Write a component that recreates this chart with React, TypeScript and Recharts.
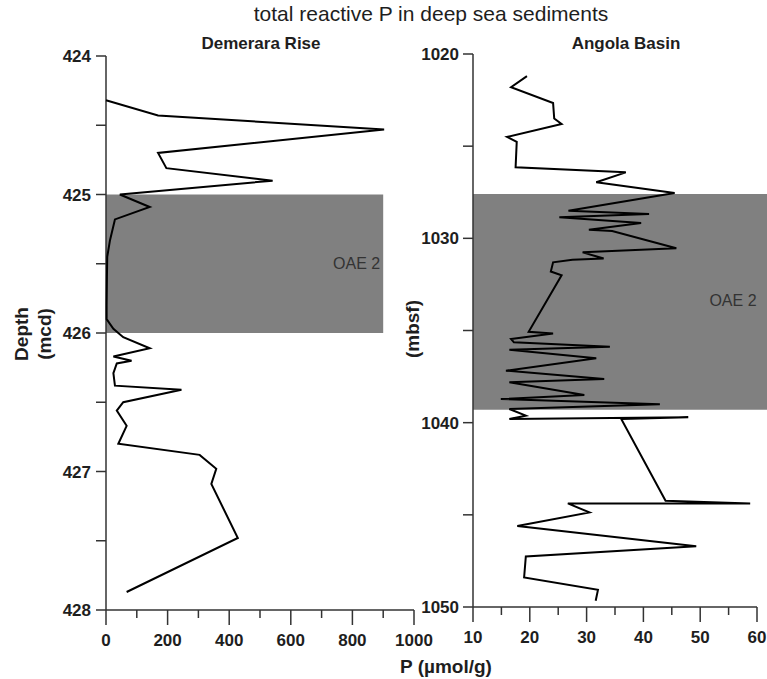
import React from 'react';
import {
  ScatterChart,
  Scatter,
  XAxis,
  YAxis,
  ReferenceArea,
} from 'recharts';

// Demerara Rise profile (depth in mcd, P in µmol/g)
const demeraraDepth = [
  424.32, 424.43, 424.53, 424.7, 424.81, 424.9, 425.0, 425.09, 425.18, 425.33,
  425.45, 425.6, 425.8, 425.9, 425.97, 426.03, 426.11, 426.17, 426.2, 426.22,
  426.29, 426.38, 426.41, 426.5, 426.56, 426.67, 426.8, 426.88, 426.98, 427.09,
  427.48, 427.87,
];
const demeraraP = [
  0, 169, 903, 169, 196, 541, 45, 142, 29, 13,
  4, 3, 2, 2, 24, 56, 142, 24, 83, 35,
  24, 29, 245, 56, 35, 67, 40, 304, 358, 342,
  428, 67,
];

// Angola Basin profile (depth in mbsf, P in µmol/g)
const angolaDepth = [
  1021.2, 1021.8, 1022.66, 1023.5, 1023.8, 1024.5, 1024.76, 1026.15, 1026.42, 1026.96,
  1027.54, 1028.5, 1028.68, 1028.86, 1029.17, 1029.53, 1029.6, 1030.54, 1030.76, 1031.09,
  1031.16, 1031.3, 1031.8, 1032.0, 1035.07, 1035.16, 1035.46, 1035.64, 1035.88, 1036.04,
  1036.5, 1037.18, 1037.63, 1037.81, 1038.5, 1038.72, 1039.0, 1039.26, 1039.62, 1039.8,
  1039.71, 1039.8, 1044.24, 1044.38, 1044.38, 1044.87, 1045.6, 1046.7, 1047.26, 1048.4,
  1049.07, 1049.66,
];
const angolaP = [
  19.5, 16.7, 24.1, 24.3, 25.6, 16.0, 17.7, 17.5, 36.9, 31.7,
  45.5, 26.8, 41.0, 25.2, 39.6, 30.4, 34.5, 45.8, 29.3, 33.0,
  27.5, 24.1, 23.7, 25.6, 19.8, 24.1, 16.7, 17.2, 34.1, 16.4,
  31.7, 15.8, 33.1, 16.4, 29.6, 14.9, 42.9, 16.4, 19.3, 16.4,
  47.9, 36.1, 43.9, 58.8, 26.7, 30.5, 17.8, 49.3, 19.3, 19.0,
  32.0, 31.6,
];

const demeraraYTicks = [424, 424.5, 425, 425.5, 426, 426.5, 427, 427.5, 428];
const demeraraXTicks = [0, 100, 200, 300, 400, 500, 600, 700, 800, 900, 1000];
const angolaYTicks = [1020, 1025, 1030, 1035, 1040, 1045, 1050];
const angolaXTicks = [10, 15, 20, 25, 30, 35, 40, 45, 50, 55, 60];

// OAE 2 intervals
const demeraraOae = [425, 426];
const angolaOae = [1027.6, 1039.3];

const FONT = '"Liberation Sans", Arial, sans-serif';
const AXIS = '#333';
const TEXT = '#1e1e1e';

const demeraraData = demeraraDepth.map((d, i) => ({ d, p: demeraraP[i] }));
const angolaData = angolaDepth.map((d, i) => ({ d, p: angolaP[i] }));

const makeXTick = (isMajor: (v: number) => boolean) => (props: any) => {
  const { x, y, payload } = props;
  const major = isMajor(payload.value);
  return (
    <g>
      <line x1={x} x2={x} y1={y} y2={y + (major ? 15 : 8)} stroke={AXIS} strokeWidth={1.5} />
      {major && (
        <text
          x={x}
          y={y + 36}
          textAnchor="middle"
          fill={TEXT}
          fontSize={17}
          fontWeight="bold"
          fontFamily={FONT}
        >
          {payload.value}
        </text>
      )}
    </g>
  );
};

const yTickStyle = { fill: TEXT, fontSize: 17, fontWeight: 'bold', fontFamily: FONT };
const noDot = () => <g />;

export default function App() {
  return (
    <div
      style={{
        position: 'absolute',
        left: 0,
        top: 0,
        width: 767,
        height: 679,
        background: '#fff',
        fontFamily: FONT,
      }}
    >
      <div style={{ position: 'absolute', left: 0, top: 0 }}>
        <ScatterChart width={450} height={679} margin={{ top: 56, right: 36, bottom: 39, left: 46 }}>
          <ReferenceArea
            x1={0}
            x2={900}
            y1={demeraraOae[0]}
            y2={demeraraOae[1]}
            fill="#808080"
            fillOpacity={1}
            stroke="none"
            label={{ value: 'OAE 2', position: 'insideRight', fill: '#333', fontSize: 16, fontFamily: FONT, offset: 3 }}
          />
          <XAxis
            type="number"
            dataKey="p"
            domain={[0, 1000]}
            ticks={demeraraXTicks}
            interval={0}
            height={30}
            tickSize={0}
            tickMargin={0}
            tickLine={false}
            axisLine={{ stroke: AXIS, strokeWidth: 1.5 }}
            tick={makeXTick((v) => v % 200 === 0)}
          />
          <YAxis
            type="number"
            dataKey="d"
            domain={[424, 428]}
            reversed
            ticks={demeraraYTicks}
            interval={0}
            width={60}
            tickSize={10}
            tickMargin={5}
            tickLine={{ stroke: AXIS, strokeWidth: 1.5 }}
            axisLine={{ stroke: AXIS, strokeWidth: 1.5 }}
            tick={yTickStyle}
            tickFormatter={(v: number) => (Number.isInteger(v) ? String(v) : '')}
          />
          <Scatter
            data={demeraraData}
            line={{ stroke: '#000', strokeWidth: 2 }}
            lineType="joint"
            shape={noDot}
            isAnimationActive={false}
          />
        </ScatterChart>
      </div>

      <div style={{ position: 'absolute', left: 400, top: 0 }}>
        <ScatterChart width={367} height={679} margin={{ top: 54, right: 10, bottom: 42, left: 13 }}>
          <ReferenceArea
            x1={10}
            x2={61.8}
            y1={angolaOae[0]}
            y2={angolaOae[1]}
            fill="#808080"
            fillOpacity={1}
            stroke="none"
            ifOverflow="visible"
          />
          <XAxis
            type="number"
            dataKey="p"
            domain={[10, 60]}
            ticks={angolaXTicks}
            interval={0}
            height={30}
            tickSize={0}
            tickMargin={0}
            tickLine={false}
            axisLine={{ stroke: AXIS, strokeWidth: 1.5 }}
            tick={makeXTick((v) => v % 10 === 0)}
          />
          <YAxis
            type="number"
            dataKey="d"
            domain={[1020, 1050]}
            reversed
            ticks={angolaYTicks}
            interval={0}
            width={60}
            tickSize={10}
            tickMargin={4}
            tickLine={{ stroke: AXIS, strokeWidth: 1.5 }}
            axisLine={{ stroke: AXIS, strokeWidth: 1.5 }}
            tick={yTickStyle}
            tickFormatter={(v: number) => (v % 10 === 0 ? String(v) : '')}
          />
          <Scatter
            data={angolaData}
            line={{ stroke: '#000', strokeWidth: 2 }}
            lineType="joint"
            shape={noDot}
            isAnimationActive={false}
          />
        </ScatterChart>
      </div>

      <svg
        width={767}
        height={679}
        style={{ position: 'absolute', left: 0, top: 0, pointerEvents: 'none' }}
        fontFamily={FONT}
      >
        <text x={431} y={21} textAnchor="middle" fontSize={21} fill={TEXT}>
          total reactive P in deep sea sediments
        </text>
        <text x={261} y={49} textAnchor="middle" fontSize={17} fontWeight="bold" fill={TEXT}>
          Demerara Rise
        </text>
        <text x={626} y={49} textAnchor="middle" fontSize={17} fontWeight="bold" fill={TEXT}>
          Angola Basin
        </text>
        <text x={733} y={306} textAnchor="middle" fontSize={16} fill="#333">
          OAE 2
        </text>
        <text transform="translate(28,334) rotate(-90)" textAnchor="middle" fontSize={19} fontWeight="bold" fill={TEXT}>
          Depth
        </text>
        <text transform="translate(51,334) rotate(-90)" textAnchor="middle" fontSize={19} fontWeight="bold" fill={TEXT}>
          (mcd)
        </text>
        <text transform="translate(419,329) rotate(-90)" textAnchor="middle" fontSize={19} fontWeight="bold" fill={TEXT}>
          (mbsf)
        </text>
        <text x={446} y={673} textAnchor="middle" fontSize={19} fontWeight="bold" fill={TEXT}>
          P (µmol/g)
        </text>
      </svg>
    </div>
  );
}
